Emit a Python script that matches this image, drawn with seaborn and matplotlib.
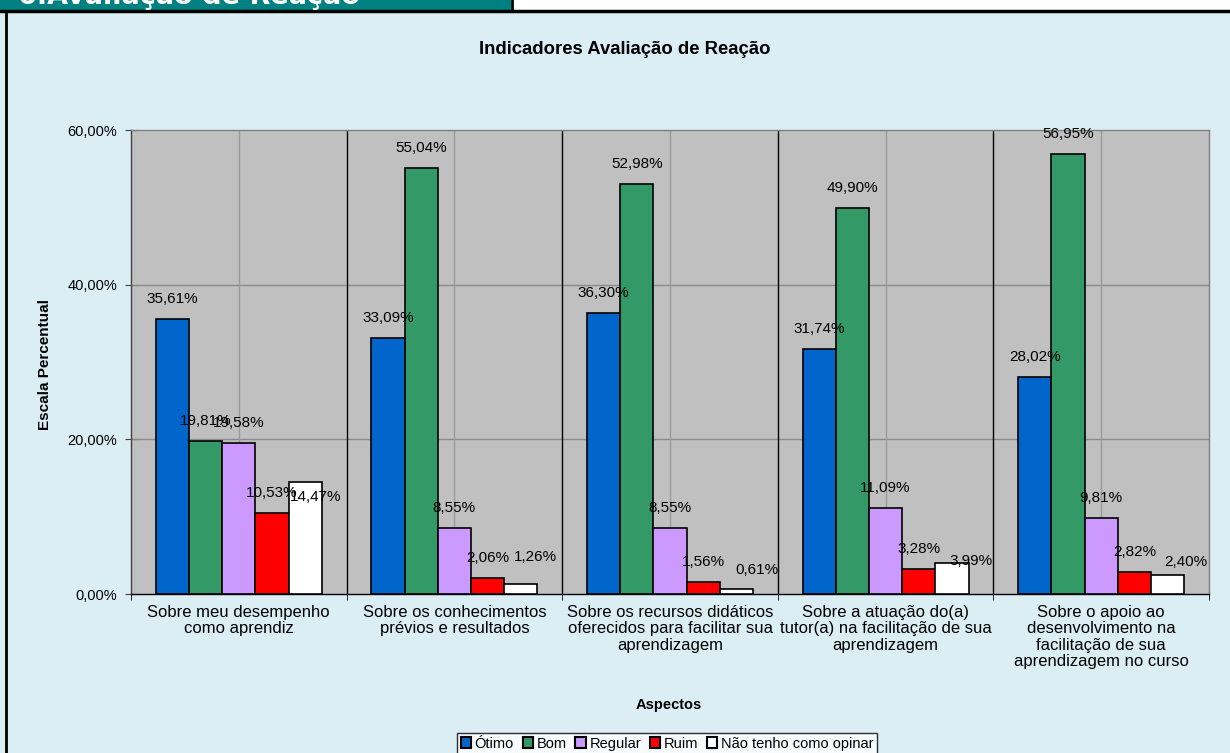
import matplotlib
matplotlib.use('Agg')
import matplotlib.pyplot as plt
import seaborn as sns
import pandas as pd
from matplotlib.patches import Rectangle
from matplotlib.lines import Line2D

# Data
aspectos = [
    'Sobre meu desempenho\ncomo aprendiz',
    'Sobre os conhecimentos\nprévios e resultados',
    'Sobre os recursos didáticos\noferecidos para facilitar sua\naprendizagem',
    'Sobre a atuação do(a)\ntutor(a) na facilitação de sua\naprendizagem',
    'Sobre o apoio ao\ndesenvolvimento na\nfacilitação de sua\naprendizagem no curso',
]
series = ['Ótimo', 'Bom', 'Regular', 'Ruim', 'Não tenho como opinar']
otimo = [35.61, 33.09, 36.30, 31.74, 28.02]
bom = [19.81, 55.04, 52.98, 49.90, 56.95]
regular = [19.58, 8.55, 8.55, 11.09, 9.81]
ruim = [10.53, 2.06, 1.56, 3.28, 2.82]
nao_opina = [14.47, 1.26, 0.61, 3.99, 2.40]
y_ticks = [0, 20, 40, 60]

cores = ['#0066CC', '#339966', '#CC99FF', '#FF0000', '#FFFFFF']
# label nudges (px) for the last series, as placed in the original
nudge_ultimo = [(10, -35), (15, 7), (21, -1), (19, -18), (18, -7)]

rows = []
for serie, valores in zip(series, [otimo, bom, regular, ruim, nao_opina]):
    for aspecto, v in zip(aspectos, valores):
        rows.append({'Aspecto': aspecto, 'Serie': serie, 'Valor': v})
df = pd.DataFrame(rows)

sns.set_style('white')
plt.rcParams['font.family'] = ['Liberation Sans', 'DejaVu Sans']
plt.rcParams['text.color'] = 'black'
plt.rcParams['axes.labelcolor'] = 'black'
plt.rcParams['xtick.color'] = 'black'
plt.rcParams['ytick.color'] = 'black'

W, H = 1230, 753
fig = plt.figure(figsize=(W / 100, H / 100), dpi=100, facecolor='#DAEEF3')
ax = fig.add_axes([131 / W, 1 - 594 / H, (1209 - 131) / W, (594 - 130) / H])
ax.set_facecolor('#C0C0C0')

sns.barplot(data=df, x='Aspecto', y='Valor', hue='Serie', order=aspectos,
            hue_order=series, palette=cores, saturation=1, width=0.77, gap=0,
            edgecolor='black', linewidth=1.2, errorbar=None, ax=ax, zorder=3)

ax.set_xlim(-0.5, len(aspectos) - 0.5)
ax.set_ylim(0, 60)

# grid
for v in y_ticks[1:-1]:
    ax.axhline(v, color='#8a8a8a', lw=1, zorder=1)
for i in range(len(aspectos)):
    ax.axvline(i, color='#9a9a9a', lw=1, zorder=1)
for i in range(1, len(aspectos)):
    ax.axvline(i - 0.5, color='black', lw=1, zorder=1)

for side in ['top', 'right']:
    ax.spines[side].set_color('#808080')
ax.spines['left'].set_color('#404040')
ax.spines['bottom'].set_color('black')
for s in ax.spines.values():
    s.set_linewidth(1)

# data labels
px = 0.72
for k, cont in enumerate(ax.containers):
    for j, bar in enumerate(cont):
        h = bar.get_height()
        txt = f'{h:.2f}%'.replace('.', ',')
        dx, dy = 0, 20
        if k == len(series) - 1:
            dx += nudge_ultimo[j][0]
            dy += nudge_ultimo[j][1]
        ax.annotate(txt, xy=(bar.get_x() + bar.get_width() / 2, h),
                    xytext=(dx * px, dy * px), textcoords='offset points',
                    ha='center', va='center', fontsize=11, color='black',
                    zorder=5)

# ticks
ax.set_yticks(y_ticks)
ax.set_yticklabels([f'{v:.2f}%'.replace('.', ',') for v in y_ticks])
ax.tick_params(axis='y', direction='inout', length=8, labelsize=10.5, pad=6,
               color='#404040', left=True)
ax.tick_params(axis='x', which='major', length=0, pad=8, labelsize=12)
ax.set_xticks([i - 0.5 for i in range(len(aspectos) + 1)], minor=True)
ax.tick_params(axis='x', which='minor', direction='out', length=4,
               color='black', bottom=True)
for lbl in ax.get_xticklabels():
    lbl.set_linespacing(1.1)

ax.set_xlabel('')
ax.set_ylabel('')

fig.text(625 / W, 1 - 50 / H, 'Indicadores Avaliação de Reação', ha='center',
         va='center', fontsize=13.3, fontweight='bold')
fig.text(669 / W, 1 - 705 / H, 'Aspectos', ha='center', va='center',
         fontsize=10.5, fontweight='bold')
fig.text(45 / W, 1 - 365 / H, 'Escala Percentual', ha='center', va='center',
         rotation=90, fontsize=11, fontweight='bold')

# legend
handles, labels = ax.get_legend_handles_labels()
leg = ax.legend(handles, labels, loc='upper center', ncol=5,
                bbox_to_anchor=(667 / W, 1 - 733 / H),
                bbox_transform=fig.transFigure, frameon=True, fancybox=False,
                edgecolor='black', facecolor='white', fontsize=10.5,
                handlelength=0.7, handleheight=0.7, handletextpad=0.25,
                columnspacing=0.6, borderpad=0.25, borderaxespad=0)
leg.get_frame().set_linewidth(1)
for hnd in leg.legend_handles:
    hnd.set_edgecolor('black')
    hnd.set_linewidth(1.5)

# header strip and frame
fig.patches.append(Rectangle((0, 1 - 10 / H), 511 / W, 10 / H,
                             transform=fig.transFigure, facecolor='#008080',
                             edgecolor='none', zorder=1))
fig.patches.append(Rectangle((513 / W, 1 - 10 / H), 1 - 513 / W, 10 / H,
                             transform=fig.transFigure, facecolor='white',
                             edgecolor='none', zorder=1))
fig.lines.append(Line2D([0, 1], [1 - 11 / H, 1 - 11 / H], transform=fig.transFigure,
                        color='black', lw=2.5))
fig.lines.append(Line2D([512 / W, 512 / W], [1, 1 - 11 / H], transform=fig.transFigure,
                        color='black', lw=2))
fig.lines.append(Line2D([6 / W, 6 / W], [1 - 11 / H, 0], transform=fig.transFigure,
                        color='black', lw=2))
fig.text(18 / W, 1 - 4 / H, '6.Avaliação de Reação', color='white', fontsize=19.5,
         fontweight='bold', family='DejaVu Sans', ha='left', va='baseline',
         zorder=3)

fig.savefig('out.png', dpi=100, facecolor=fig.get_facecolor())
